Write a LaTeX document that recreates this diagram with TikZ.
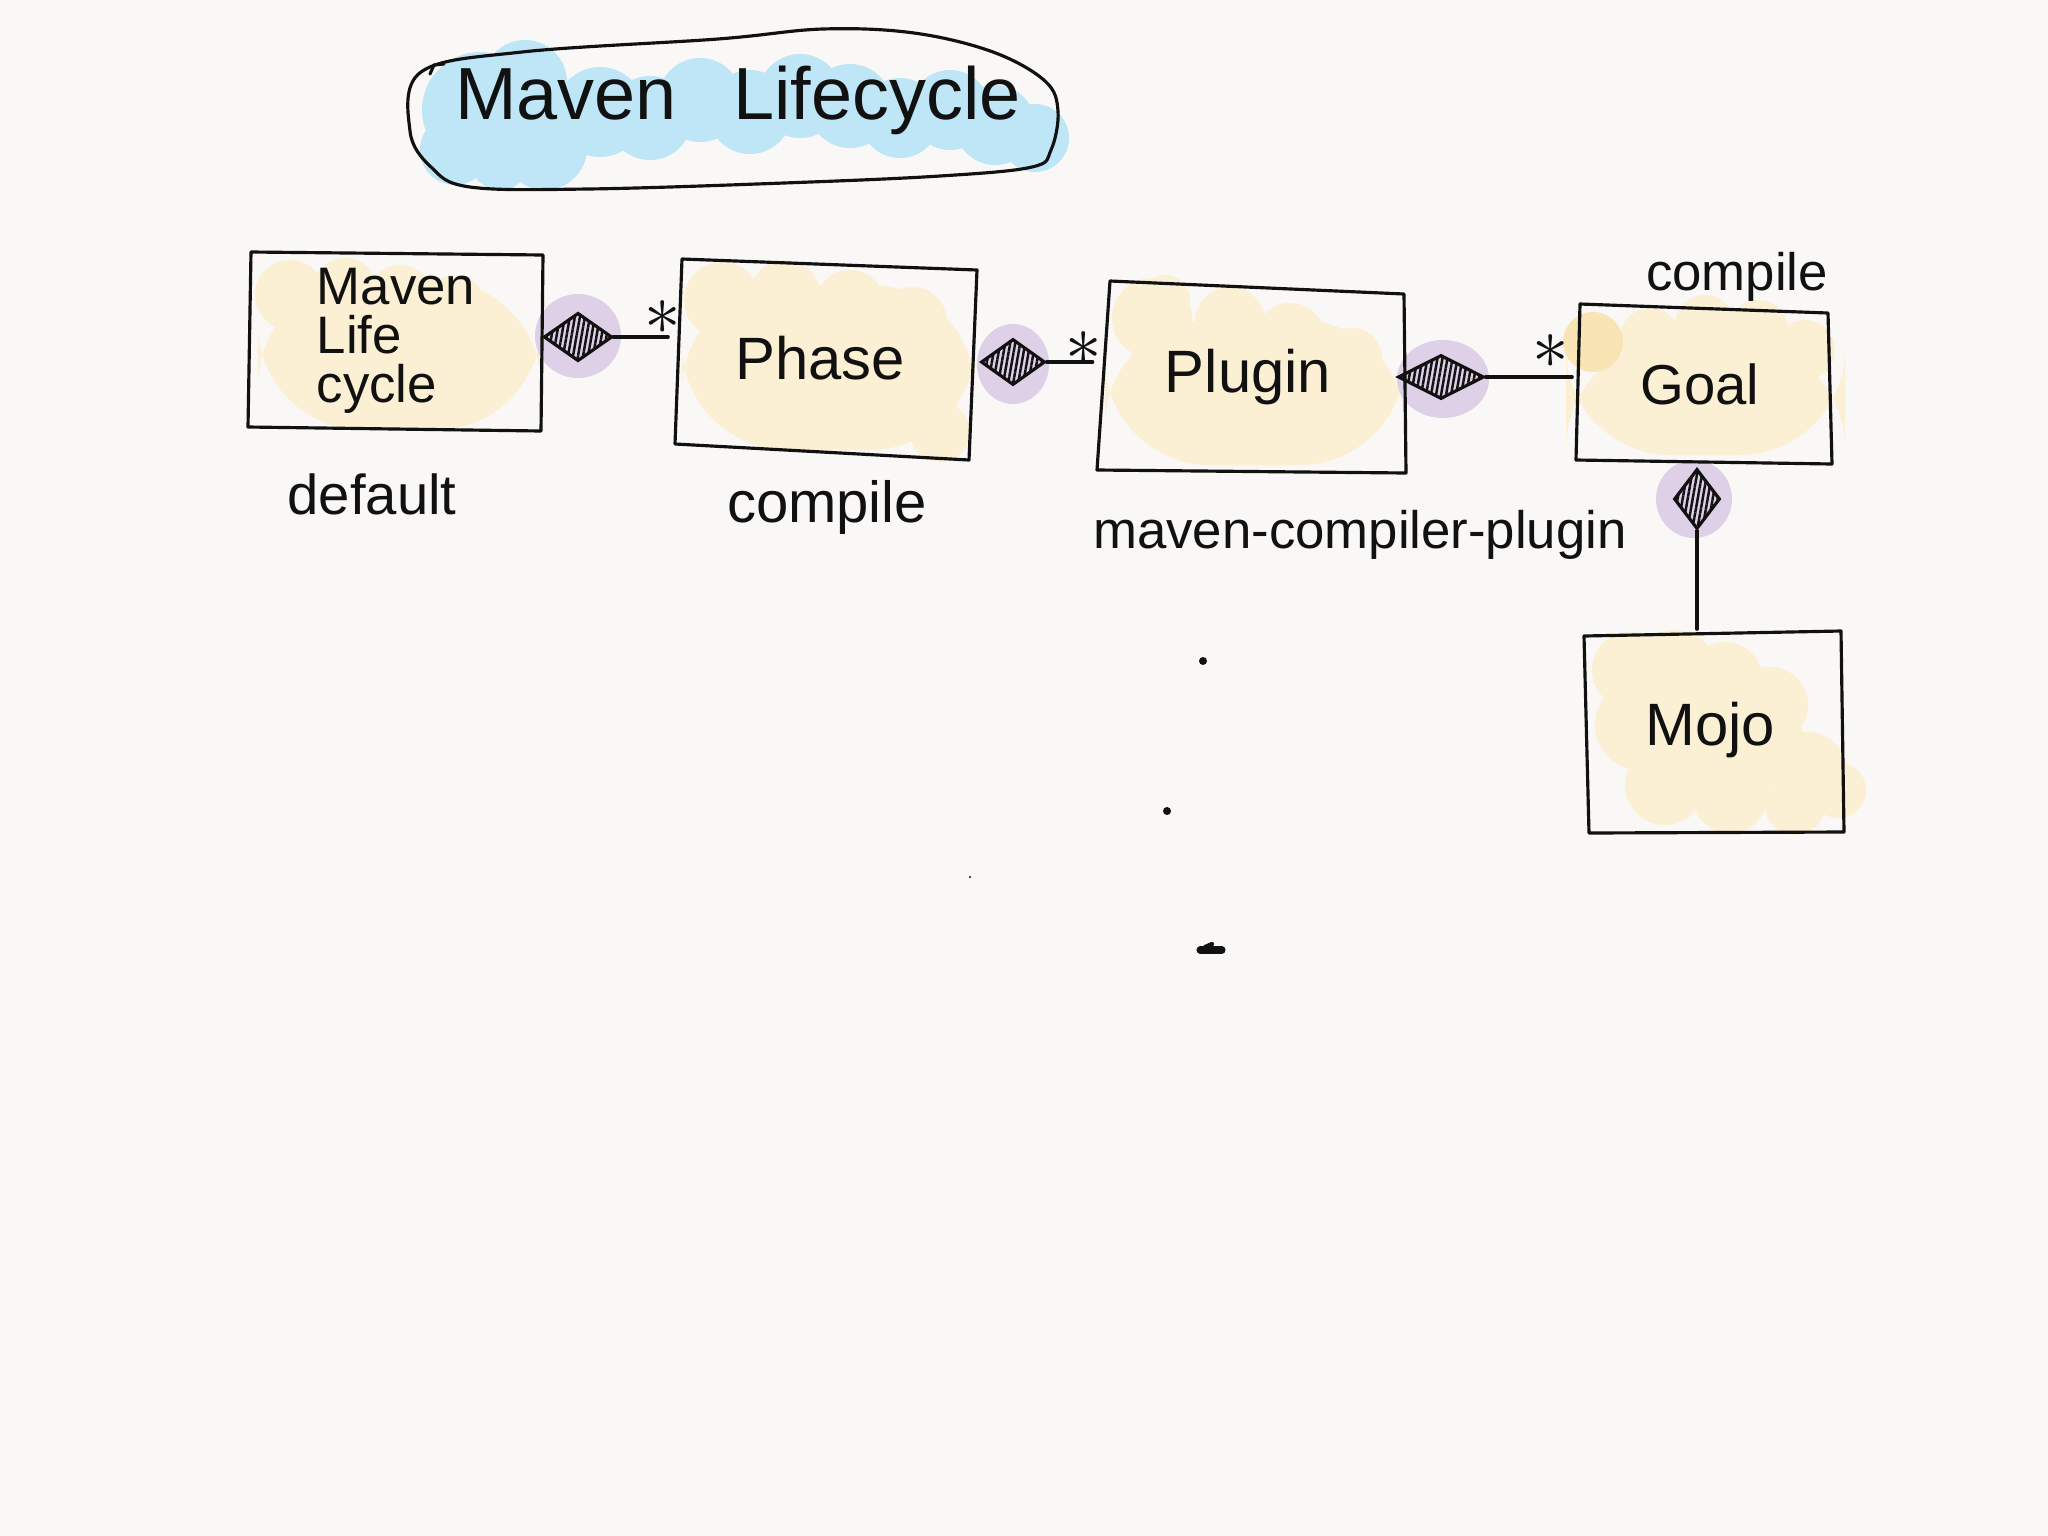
\documentclass[tikz,border=0pt]{standalone}
\usepackage{fontspec}
\setmainfont{Liberation Sans}
\usetikzlibrary{shapes.geometric,patterns.meta}
\definecolor{bgc}{RGB}{249,248,246}
\definecolor{blueblob}{RGB}{190,230,247}
\definecolor{yel}{RGB}{251,239,212}
\definecolor{yeldark}{RGB}{248,228,180}
\definecolor{purp}{RGB}{222,208,231}
\definecolor{ink}{RGB}{17,17,17}
\begin{document}
\begin{tikzpicture}[x=0.01cm,y=-0.01cm,
  sk/.style={draw=ink,line width=0.9pt,line cap=round,line join=round},
  boxnode/.style={draw=none,inner sep=0pt,text=ink,font=\fontsize{17}{17}\selectfont},
  comp/.style={shape=diamond,draw=ink,line width=0.9pt,inner sep=0pt,
    pattern={Lines[angle=80,distance=1.4pt,line width=0.7pt]},pattern color=ink},
  mult/.style={inner sep=0pt,text=ink,font=\fontsize{20}{20}\selectfont},
  lbl/.style={inner sep=0pt,text=ink,font=\fontsize{16}{16}\selectfont}]
\useasboundingbox (0,0) rectangle (2048,1536);
\fill[bgc] (0,0) rectangle (2048,1536);

% ---- title highlight
\fill[blueblob] (480,110) circle (58) (525,82) circle (42) (545,148) circle (42)
  (600,112) circle (45) (650,118) circle (42) (700,100) circle (42)
  (750,112) circle (42) (800,96) circle (42) (850,106) circle (42)
  (900,118) circle (40) (950,110) circle (40) (995,125) circle (40)
  (1035,138) circle (34) (455,150) circle (35) (500,160) circle (30);
% ---- title outline
\draw[sk] plot[smooth cycle,tension=0.6] coordinates {(421,72) (522,52) (718,39) (823,29)
  (914,33) (993,52) (1045,81) (1058,111) (1051,150) (1032,167) (940,176) (784,183)
  (588,189) (470,187) (431,167) (410,131)};
\draw[sk] (430,74) -- (434,65) -- (444,64);
\node[inner sep=0pt,text=ink,font=\fontsize{21}{21}\selectfont] (title) at (738,100)
  {Maven\hspace{16pt}Lifecycle};

% ---- yellow highlights
\fill[yel] [rounded corners=30] (258,280) rectangle (541,430);
\fill[yel] (290,295) circle (35) (345,290) circle (32) (400,297) circle (32) (455,305) circle (30);
\fill[yel] [rounded corners=30] (682,285) rectangle (975,450);
\fill[yel] (722,300) circle (38) (785,295) circle (35) (850,305) circle (35) (912,322) circle (35) (940,432) circle (30);
\fill[yel] [rounded corners=30] (1105,320) rectangle (1405,465);
\fill[yel] (1152,318) circle (40) (1165,300) circle (25) (1230,322) circle (35) (1290,338) circle (35) (1352,358) circle (30);
\fill[yel] [rounded corners=30] (1566,342) rectangle (1845,455);
\fill[yel] (1650,338) circle (30) (1705,325) circle (30) (1758,330) circle (30) (1805,350) circle (30);
\fill[yeldark] (1593,342) circle (30);
\fill[yel] (1630,670) circle (38) (1675,672) circle (42) (1725,680) circle (38) (1770,705) circle (38)
  (1640,725) circle (45) (1700,730) circle (50) (1760,745) circle (45) (1808,770) circle (38)
  (1838,790) circle (28) (1665,785) circle (40) (1730,795) circle (38) (1795,805) circle (30);

% ---- purple highlights
\fill[purp] (578,336) ellipse [x radius=43,y radius=42];
\fill[purp] (1013,364) ellipse [x radius=36,y radius=40];
\fill[purp] (1443,379) ellipse [x radius=46,y radius=39];
\fill[purp] (1694,499) ellipse [x radius=38,y radius=39];

% ---- box outlines (hand drawn)
\draw[sk] (251,252) -- (543,255) -- (541,431) -- (248,427) -- cycle;
\draw[sk] (682,259) -- (977,270) -- (969,460) -- (675,444) -- cycle;
\draw[sk] (1110,281) -- (1404,294) -- (1406,473) -- (1097,470) -- cycle;
\draw[sk] (1580,304) -- (1828,313) -- (1832,464) -- (1576,460) -- cycle;
\draw[sk] (1584,636) -- (1841,631) -- (1844,832) -- (1589,833) -- cycle;

% ---- box nodes
\node[boxnode,minimum width=2.93cm,minimum height=1.76cm,align=left,
  font=\fontsize{15}{14}\selectfont] (b1) at (396,341) {Maven\\Life\\cycle};
\node[boxnode,minimum width=3.02cm,minimum height=1.96cm] (b2) at (820,358) {Phase};
\node[boxnode,minimum width=3.09cm,minimum height=1.86cm] (b3) at (1248,377) {Plugin};
\node[boxnode,minimum width=2.54cm,minimum height=1.56cm,font=\fontsize{16}{16}\selectfont] (b4) at (1700,384) {Goal};
\node[boxnode,minimum width=2.58cm,minimum height=2.00cm] (b5) at (1710,730) {Mojo};

% ---- composition diamonds and connectors
\node[comp,minimum width=0.68cm,minimum height=0.48cm] (d1) at (578,337) {};
\draw[sk] (d1.east) -- (d1.east -| b2.west);
\node[mult] (m1) at (663,318) {$\ast$};

\node[comp,minimum width=0.64cm,minimum height=0.46cm] (d2) at (1013,362) {};
\draw[sk] (d2.east) -- (d2.east -| b3.west);
\node[mult] (m2) at (1084,349) {$\ast$};

\node[comp,minimum width=0.86cm,minimum height=0.44cm] (d3) at (1441,377) {};
\draw[sk] (d3.east) -- (d3.east -| b4.west);
\node[mult] (m3) at (1551,352) {$\ast$};

\node[comp,minimum width=0.46cm,minimum height=0.60cm] (d4) at (1697,499) {};
\draw[sk] (d4.south) -- (d4.south |- b5.north);

% ---- labels
\node[lbl] (l1) at (372,494) {default};
\node[lbl,font=\fontsize{16.5}{16.5}\selectfont] (l2) at (827,507) {compile};
\node[lbl,font=\fontsize{15}{15}\selectfont] (l3) at (1360,535) {maven-compiler-plugin};
\node[lbl,font=\fontsize{15}{15}\selectfont] (l4) at (1737,277) {compile};

% ---- stray marks
\fill[ink] (1203,661) circle (4);
\fill[ink] (1167,811) circle (4);
\fill[ink] (970,877) circle (1.2);
\draw[ink,line width=2pt,line cap=round] (1200,950) -- (1222,950);
\draw[ink,line width=1.2pt,line cap=round] (1205,947) -- (1212,944);
\end{tikzpicture}
\end{document}
